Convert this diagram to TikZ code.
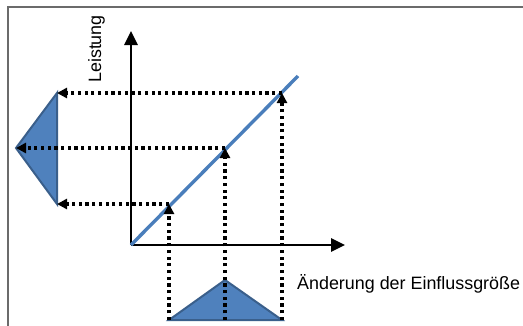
\documentclass[tikz,border=0pt]{standalone}
\usepackage{fontspec}
\setmainfont{Liberation Sans}
\usetikzlibrary{arrows.meta}
\definecolor{frameg}{HTML}{6B6B6B}
\definecolor{tribl}{HTML}{4F81BD}
\definecolor{triedge}{HTML}{3A5F8B}
\definecolor{linebl}{HTML}{4A7EBB}
\tikzset{
  axis/.style={line width=2.6pt,-{Triangle[width=13pt,length=14pt]}},
  dotarrow/.style={line width=3.2pt,dash pattern=on 3.2pt off 3.5pt,-{Triangle[width=10pt,length=10pt]}},
  tri/.style={fill=tribl,draw=triedge,line width=2pt,line join=miter},
  lbl/.style={inner sep=0pt,font=\fontsize{17.9}{20}\selectfont},
}
\begin{document}
\begin{tikzpicture}[x=1pt,y=-1pt]
\useasboundingbox (0,0) rectangle (523,325);
\begin{scope}
\clip (0,0) rectangle (523,325);
\draw[frameg,line width=2.4pt] (8,7) rectangle (540,340);
\end{scope}
% points
\coordinate (O) at (131,245);
\coordinate (Yend) at (131,31);
\coordinate (Xend) at (345,245);
\coordinate (Lend) at (298,76);
\coordinate (P1) at (169,204);
\coordinate (P2) at (225,148);
\coordinate (P3) at (282,93);
\coordinate (B1) at (169,320);
\coordinate (B2) at (225,320);
\coordinate (B3) at (282,320);
\coordinate (T1) at (57,204);
\coordinate (T2) at (16,148);
\coordinate (T3) at (57,93);
\coordinate (Apex) at (225,280);
% triangles
\draw[tri] (T3) -- (T2) -- (T1) -- cycle;
\draw[tri] (B1) -- (Apex) -- (B3) -- cycle;
% axes
\draw[axis] (O) -- (Yend);
\draw[axis] (O) -- (Xend);
% blue line
\draw[linebl,line width=3.4pt] (O) -- (Lend);
% dotted arrows
\draw[dotarrow] (B1) -- (P1);
\draw[dotarrow] (B2) -- (P2);
\draw[dotarrow] (B3) -- (P3);
\draw[dotarrow] (P1) -- (T1);
\draw[dotarrow] (P2) -- (T2);
\draw[dotarrow] (P3) -- (T3);
% labels
\node[lbl,rotate=90,anchor=base west] (ylab) at (101,83) {Leistung};
\node[lbl,anchor=base west] (xlab) at (297,289) {Änderung der Einflussgröße};
\end{tikzpicture}
\end{document}
